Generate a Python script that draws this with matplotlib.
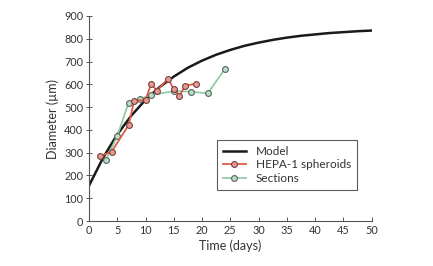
import matplotlib
matplotlib.use("Agg")
import matplotlib.pyplot as plt

# model curve, every 2.5 days
model_t = [0, 2.5, 5, 7.5, 10, 12.5, 15, 17.5, 20, 22.5, 25, 27.5, 30,
           32.5, 35, 37.5, 40, 42.5, 45, 47.5, 50]
model_d = [155, 278, 380, 463, 532, 588, 634, 673, 704, 730, 751, 769, 783,
           795, 805, 813, 819, 825, 829, 833, 836]

hepa_t = [2, 4, 7, 8, 10, 11, 12, 14, 15, 16, 17, 19]
hepa_d = [285, 304, 421, 528, 531, 603, 572, 625, 578, 550, 594, 603]

sect_t = [3, 5, 7, 9, 11, 15, 18, 21, 24]
sect_d = [268, 373, 519, 535, 553, 570, 568, 560, 667]

x_ticks = list(range(0, 51, 5))
y_ticks = list(range(0, 901, 100))

plt.rcParams["font.family"] = ["Lato", "DejaVu Sans"]

fig = plt.figure(figsize=(4.33, 2.66), dpi=100)
ax = fig.add_axes([0.2055, 0.169, 0.653, 0.771])

ax.plot(model_t, model_d, color="#1a1a1a", lw=1.8, label="Model", zorder=2)
ax.plot(sect_t, sect_d, color="#94cca8", lw=1.3, marker="o", ms=4.2,
        mfc="#b8dcc6", mec="#55675d", mew=0.8, label="Sections", zorder=3)
ax.plot(hepa_t, hepa_d, color="#e05a47", lw=1.3, marker="o", ms=4.2,
        mfc="#e99a90", mec="#74403d", mew=0.8, label="HEPA-1 spheroids", zorder=4)

ax.set_xlim(0, 50)
ax.set_ylim(0, 900)
ax.set_xticks(x_ticks)
ax.set_yticks(y_ticks)
for s in ("top", "right"):
    ax.spines[s].set_visible(False)
for s in ("left", "bottom"):
    ax.spines[s].set_color("#555555")
    ax.spines[s].set_linewidth(0.8)
ax.tick_params(axis="x", direction="in", length=3, width=0.7, color="#555555",
               labelsize=7.8, labelcolor="#333333", pad=3)
ax.tick_params(axis="y", direction="inout", length=4, width=0.7, color="#555555",
               labelsize=7.8, labelcolor="#333333", pad=2)
ax.set_xlabel("Time (days)", fontsize=9, color="#333333", labelpad=2)
ax.set_ylabel("Diameter (\u00b5m)", fontsize=9, color="#333333", labelpad=4)

handles, labels = ax.get_legend_handles_labels()
order = [0, 2, 1]
leg = ax.legend([handles[i] for i in order], [labels[i] for i in order],
                loc="upper left", bbox_to_anchor=(0.452, 0.395), borderaxespad=0,
                fontsize=8.5, frameon=True, fancybox=False, edgecolor="#333333",
                handlelength=2.0, borderpad=0.5, labelspacing=0.2,
                handletextpad=0.8)
leg.get_frame().set_linewidth(0.8)
for t in leg.get_texts():
    t.set_color("#333333")

fig.savefig("out.png", dpi=100)
